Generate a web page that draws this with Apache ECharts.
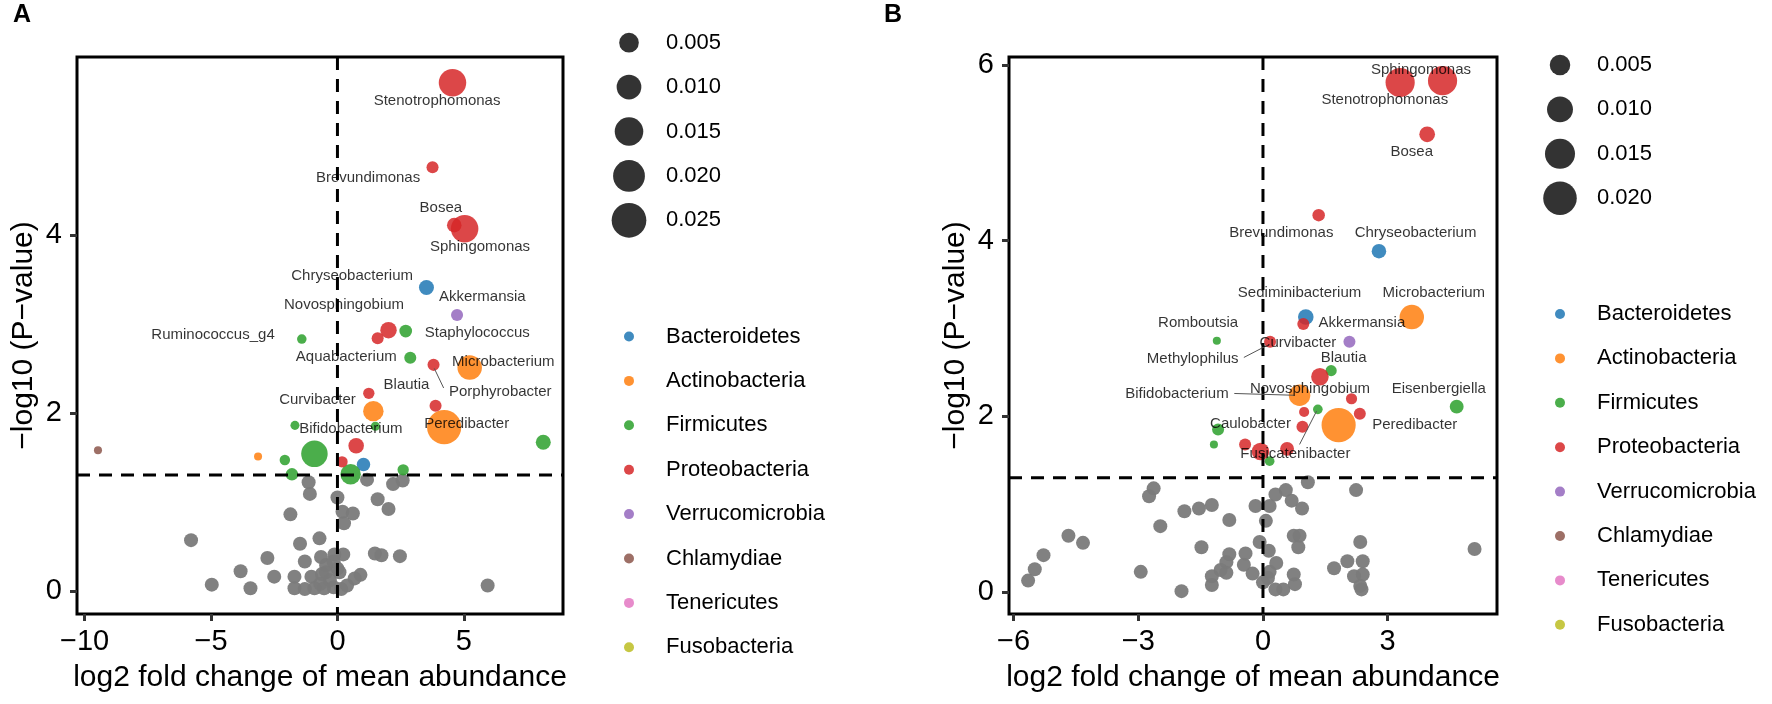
<!DOCTYPE html>
<html><head><meta charset="utf-8">
<script src="https://cdn.jsdelivr.net/npm/echarts@6/dist/echarts.min.js"></script>
<style>html,body{margin:0;padding:0;background:#fff}#c{width:1772px;height:704px}</style>
</head><body><div id="c"></div>
<script>
// ---------------- DATA ----------------
const PHYLA = ['Bacteroidetes','Actinobacteria','Firmicutes','Proteobacteria','Verrucomicrobia','Chlamydiae','Tenericutes','Fusobacteria'];
const PHYLA_CODES = ['Ba','Ac','Fi','Pr','Ve','Ch','Te','Fu'];
const P_THRESHOLD = 0.05;

// Panel A - significant genera
const A_X = [4.55, 3.76, 4.62, 5.03, 3.52, 4.73, 2.02, 1.59, 2.70, -1.41, 2.88, 3.80, 5.23, 1.24, 1.42, 3.88, 4.22, -1.68, 1.50, 0.74, 8.14, -9.47, -3.14, -2.08, -0.91, 0.18, 1.03, 2.60, -1.80, 0.52];
const A_Y = [5.71, 4.76, 4.11, 4.07, 3.41, 3.10, 2.93, 2.84, 2.92, 2.83, 2.62, 2.54, 2.51, 2.22, 2.02, 2.08, 1.84, 1.86, 1.85, 1.63, 1.67, 1.58, 1.51, 1.47, 1.54, 1.45, 1.42, 1.36, 1.31, 1.31];
const A_ABUND = [0.0135, 0.0007, 0.0017, 0.0135, 0.0019, 0.0007, 0.0027, 0.0007, 0.0009, 0.00014, 0.0007, 0.0007, 0.0098, 0.0005, 0.0057, 0.0007, 0.0240, 0.00008, 0.00008, 0.0022, 0.0019, 0.00001, 0.00001, 0.0003, 0.0122, 0.0005, 0.0012, 0.0005, 0.00085, 0.0057];
const A_PHYLUM = ['Pr','Pr','Pr','Pr','Ba','Ve','Pr','Pr','Fi','Fi','Fi','Pr','Ac','Pr','Ac','Pr','Ac','Fi','Fi','Pr','Fi','Ch','Ac','Fi','Fi','Pr','Ba','Fi','Fi','Fi'];
// Panel A - non-significant genera
const A_NS_X = [-1.14, 1.17, 2.20, 2.58, -1.09, 0.00, 1.59, 2.02, -1.86, 0.20, 0.61, 0.26, -5.79, -0.71, -1.48, -2.77, -0.65, -0.12, 0.23, 1.48, 1.74, 2.47, -1.29, -3.83, -2.50, -1.70, -1.03, -0.45, 0.00, 0.91, -4.97, -3.44, 5.94, -1.70, -1.29, -0.91, -0.53, -0.15, 0.15, 0.38, -0.30, -0.68, -0.45, -0.15, 0.08, -0.61, 0.68];
const A_NS_Y = [1.22, 1.25, 1.20, 1.24, 1.09, 1.05, 1.03, 0.92, 0.86, 0.89, 0.87, 0.76, 0.57, 0.59, 0.53, 0.37, 0.38, 0.41, 0.41, 0.42, 0.40, 0.39, 0.33, 0.22, 0.16, 0.16, 0.16, 0.21, 0.25, 0.18, 0.07, 0.03, 0.06, 0.03, 0.02, 0.03, 0.03, 0.04, 0.02, 0.06, 0.12, 0.08, 0.29, 0.33, 0.21, 0.19, 0.14];
// Panel A - labels
const A_LABELS = ['Stenotrophomonas','Brevundimonas','Bosea','Sphingomonas','Chryseobacterium','Akkermansia','Novosphingobium','Ruminococcus_g4','Staphylococcus','Aquabacterium','Microbacterium','Blautia','Porphyrobacter','Curvibacter','Peredibacter','Bifidobacterium'];
const A_LABEL_X = [3.94, 1.21, 4.09, 5.64, 0.58, 5.73, 0.26, -4.92, 5.53, 0.35, 6.56, 2.73, 6.44, -0.79, 5.11, 0.53];
const A_LABEL_Y = [5.51, 4.64, 4.31, 3.87, 3.54, 3.30, 3.21, 2.88, 2.90, 2.63, 2.57, 2.31, 2.24, 2.15, 1.88, 1.82];
const A_SEGMENTS = [[[3.83, 2.50], [4.20, 2.28]]];
const A_X_TICKS = [-10, -5, 0, 5];
const A_Y_TICKS = [0, 2, 4];
const A_SIZE_BREAKS = [0.005, 0.010, 0.015, 0.020, 0.025];

// Panel B - significant genera
const B_X = [3.30, 4.32, 3.95, 1.34, 2.79, 1.03, 0.97, 3.58, -1.11, 0.17, 2.08, 1.64, 1.37, 0.88, 2.13, 4.66, 0.99, 1.32, 2.33, 1.82, 0.95, -1.08, -1.18, -0.43, -0.06, 0.58, 0.16];
const B_Y = [5.80, 5.82, 5.21, 4.29, 3.88, 3.13, 3.05, 3.13, 2.86, 2.85, 2.85, 2.52, 2.45, 2.24, 2.20, 2.11, 2.05, 2.08, 2.03, 1.90, 1.88, 1.85, 1.68, 1.68, 1.60, 1.63, 1.49];
const B_ABUND = [0.0139, 0.0139, 0.0020, 0.00074, 0.00145, 0.0019, 0.0006, 0.0085, 0.00001, 0.0006, 0.0006, 0.0004, 0.0030, 0.0058, 0.0004, 0.0012, 0.0002, 0.00014, 0.0006, 0.0210, 0.0006, 0.0006, 0.00001, 0.0006, 0.0030, 0.0012, 0.00014];
const B_PHYLUM = ['Pr','Pr','Pr','Pr','Ba','Ba','Pr','Ac','Fi','Pr','Ve','Fi','Pr','Ac','Pr','Fi','Pr','Fi','Pr','Ac','Pr','Fi','Fi','Pr','Pr','Pr','Fi'];
// Panel B - non-significant genera
const B_NS_X = [-2.63, -2.74, -1.89, -1.54, -1.23, -2.47, -0.81, -4.68, -4.33, -5.28, -5.49, -5.65, -2.94, -1.96, -1.48, -0.81, -0.88, -1.02, -1.23, -1.23, -0.88, -0.46, -0.42, -0.25, -0.08, -0.18, 0.16, 0.07, 0.30, 0.55, 0.69, 0.94, 1.08, 0.14, 0.32, 0.16, 0.12, 0.00, 0.30, 0.49, 0.74, 0.88, 0.85, 0.74, 0.77, 1.71, 2.03, 2.24, 2.34, 2.40, 2.40, 2.19, 2.34, 2.37, 5.09];
const B_NS_Y = [1.18, 1.09, 0.92, 0.95, 0.99, 0.75, 0.82, 0.64, 0.56, 0.42, 0.26, 0.13, 0.23, 0.01, 0.51, 0.43, 0.34, 0.25, 0.18, 0.08, 0.22, 0.31, 0.44, 0.21, 0.57, 0.98, 0.98, 0.81, 1.11, 1.16, 1.04, 0.95, 1.25, 0.47, 0.33, 0.23, 0.16, 0.11, 0.03, 0.03, 0.64, 0.64, 0.51, 0.20, 0.09, 0.27, 0.35, 1.16, 0.57, 0.35, 0.20, 0.18, 0.07, 0.03, 0.49];
// Panel B - labels
const B_LABELS = ['Sphingomonas','Stenotrophomonas','Bosea','Brevundimonas','Chryseobacterium','Sediminibacterium','Microbacterium','Romboutsia','Akkermansia','Curvibacter','Methylophilus','Blautia','Bifidobacterium','Novosphingobium','Eisenbergiella','Caulobacter','Peredibacter','Fusicatenibacter'];
const B_LABEL_X = [3.80, 2.93, 3.58, 0.44, 3.67, 0.88, 4.11, -1.56, 2.38, 0.84, -1.69, 1.94, -2.07, 1.13, 4.23, -0.30, 3.65, 0.78];
const B_LABEL_Y = [5.94, 5.60, 5.01, 4.09, 4.09, 3.40, 3.40, 3.06, 3.06, 2.84, 2.65, 2.66, 2.26, 2.31, 2.31, 1.91, 1.90, 1.57];
const B_SEGMENTS = [[[-0.46, 2.67], [0.03, 2.79]], [[-0.69, 2.26], [0.74, 2.24]], [[0.88, 1.68], [1.29, 2.06]]];
const B_X_TICKS = [-6, -3, 0, 3];
const B_Y_TICKS = [0, 2, 4, 6];
const B_SIZE_BREAKS = [0.005, 0.010, 0.015, 0.020];

// ---------------- STYLE ----------------
const FONT = '"Liberation Sans", Arial, Helvetica, sans-serif';
const COLORS = {Ba:'#1f77b4', Ac:'#ff7f0e', Fi:'#2ca02c', Pr:'#d62728', Ve:'#9467bd', Ch:'#8c564b', Te:'#e377c2', Fu:'#bcbd22'};
const sizeA = v => 7.5 + 172 * Math.sqrt(v);
const sizeB = v => 7.5 + 184 * Math.sqrt(v);
const minus = v => String(v).replace('-', '\u2212');
const yThr = -Math.log10(P_THRESHOLD);

const panels = [
  {xs:A_X, ys:A_Y, ab:A_ABUND, ph:A_PHYLUM, nx:A_NS_X, ny:A_NS_Y, lab:A_LABELS, lx:A_LABEL_X, ly:A_LABEL_Y, seg:A_SEGMENTS,
   xt:A_X_TICKS, yt:A_Y_TICKS, xmin:-10.3, xmax:8.92, ymin:-0.26, ymax:6.0, size:sizeA, breaks:A_SIZE_BREAKS,
   grid:{left:77, top:57, width:486, height:557}, legX:629, legTX:666, sizeY0:42.7, colY0:336.5, tag:'A', tagX:13},
  {xs:B_X, ys:B_Y, ab:B_ABUND, ph:B_PHYLUM, nx:B_NS_X, ny:B_NS_Y, lab:B_LABELS, lx:B_LABEL_X, ly:B_LABEL_Y, seg:B_SEGMENTS,
   xt:B_X_TICKS, yt:B_Y_TICKS, xmin:-6.11, xmax:5.63, ymin:-0.25, ymax:6.09, size:sizeB, breaks:B_SIZE_BREAKS,
   grid:{left:1009, top:57, width:488, height:557}, legX:1560, legTX:1597, sizeY0:65, colY0:314, tag:'B', tagX:884}
];

const grids = [], xAxes = [], yAxes = [], series = [], legends = [], titles = [];
const ROW = 44.4;
const sizeSeriesNames = new Set();

panels.forEach((p, k) => {
  grids.push(Object.assign({show:true, borderColor:'#000', borderWidth:3, backgroundColor:'transparent'}, p.grid));
  const tickStyle = {show:true, length:7, lineStyle:{color:'#333', width:3}};
  xAxes.push({type:'value', gridIndex:k, min:p.xmin, max:p.xmax, splitLine:{show:false}, axisLine:{show:false, onZero:false},
    axisTick:Object.assign({customValues:p.xt}, tickStyle),
    axisLabel:{customValues:p.xt, formatter:minus, fontSize:29, color:'#000', fontFamily:FONT, margin:13},
    name:'log2 fold change of mean abundance', nameLocation:'middle', nameGap:49,
    nameTextStyle:{fontSize:30, color:'#000', fontFamily:FONT}});
  yAxes.push({type:'value', gridIndex:k, min:p.ymin, max:p.ymax, splitLine:{show:false}, axisLine:{show:false, onZero:false},
    axisTick:Object.assign({customValues:p.yt}, tickStyle),
    axisLabel:{customValues:p.yt, formatter:minus, fontSize:29, color:'#000', fontFamily:FONT, margin:15},
    name:'\u2212log10 (P\u2212value)', nameLocation:'middle', nameGap:38,
    nameTextStyle:{fontSize:30, color:'#000', fontFamily:FONT}});
  // non-significant points
  series.push({type:'scatter', name:'ns', xAxisIndex:k, yAxisIndex:k, z:2, symbolSize:14,
    itemStyle:{color:'#7a7a7a', opacity:0.95}, data:p.nx.map((x, i) => [x, p.ny[i]]), silent:true});
  // significant points by phylum
  PHYLA_CODES.forEach((c, j) => {
    const data = [];
    p.ph.forEach((ph, i) => { if (ph === c) data.push([p.xs[i], p.ys[i], p.ab[i]]); });
    series.push({type:'scatter', name:PHYLA[j], xAxisIndex:k, yAxisIndex:k, z:3,
      symbolSize:v => p.size(v[2]), itemStyle:{color:COLORS[c], opacity:0.85}, data, silent:true});
  });
  // size-legend dummy series
  p.breaks.forEach(b => {
    const nm = b.toFixed(3);
    if (!sizeSeriesNames.has(nm)) {
      sizeSeriesNames.add(nm);
      series.push({type:'scatter', name:nm, xAxisIndex:k, yAxisIndex:k, itemStyle:{color:'#333', opacity:1}, data:[]});
    }
  });
  // threshold dashed lines
  const dash = {color:'#000', width:3, type:[13, 9]};
  series.push({type:'line', xAxisIndex:k, yAxisIndex:k, z:4, symbol:'none', silent:true, lineStyle:dash,
    data:[[0, p.ymax], [0, p.ymin]]});
  series.push({type:'line', xAxisIndex:k, yAxisIndex:k, z:4, symbol:'none', silent:true, lineStyle:dash,
    data:[[p.xmin, yThr], [p.xmax, yThr]]});
  // label connector segments
  p.seg.forEach(s => series.push({type:'line', xAxisIndex:k, yAxisIndex:k, z:5, symbol:'none', silent:true,
    lineStyle:{color:'#555', width:1}, data:s}));
  // text labels
  series.push({type:'scatter', xAxisIndex:k, yAxisIndex:k, z:6, symbolSize:0.1, silent:true,
    itemStyle:{color:'transparent'},
    label:{show:true, position:'inside', formatter:'{b}', color:'#000', fontSize:15, fontFamily:FONT},
    data:p.lab.map((n, i) => ({name:n, value:[p.lx[i], p.ly[i]]}))});
  // size legends
  p.breaks.forEach((b, i) => {
    const d = p.size(b), y = p.sizeY0 + i * ROW;
    legends.push({data:[b.toFixed(3)], orient:'vertical', left:p.legX - d / 2, top:y - Math.max(12, d / 2),
      padding:0, itemWidth:d, itemHeight:d, icon:'circle', selectedMode:false,
      textStyle:{fontSize:22, lineHeight:24, color:'#000', fontFamily:FONT, padding:[0, 0, 0, p.legTX - (p.legX + d / 2 + 5)]}});
  });
  // colour legend
  legends.push({data:PHYLA, orient:'vertical', left:p.legX - 5, top:p.colY0 - 12, padding:0,
    itemWidth:10, itemHeight:10, itemGap:ROW - 24, icon:'circle', selectedMode:false,
    textStyle:{fontSize:22, lineHeight:24, color:'#000', fontFamily:FONT, padding:[0, 0, 0, p.legTX - (p.legX + 10)]}});
  titles.push({text:p.tag, left:p.tagX, top:3, padding:0, textStyle:{fontSize:25, fontWeight:'bold', color:'#000', fontFamily:FONT}});
});

const chart = echarts.init(document.getElementById('c'));
chart.setOption({animation:false, backgroundColor:'#fff', title:titles, grid:grids, xAxis:xAxes, yAxis:yAxes, legend:legends, series});
</script></body></html>
